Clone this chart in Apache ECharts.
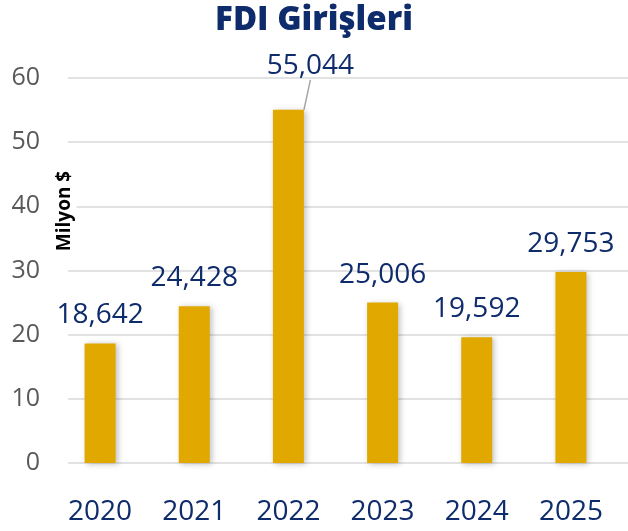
<!DOCTYPE html>
<html><head><meta charset="utf-8">
<script src="https://cdn.jsdelivr.net/npm/echarts@6/dist/echarts.min.js"></script>
<style>html,body{margin:0;padding:0;background:#fff}#c{width:628px;height:531px}</style>
</head><body><div id="c"></div>
<script>
const categories = ['2020','2021','2022','2023','2024','2025'];
const values = [18642, 24428, 55044, 25006, 19592, 29753];
const yTicks = [0, 10000, 20000, 30000, 40000, 50000, 60000];
const titleText = 'FDI Girişleri';
const yName = 'Milyon $';

const navy = '#0E2B6B';
const chart = echarts.init(document.getElementById('c'));
chart.setOption({
  animation: false,
  title: { text: titleText, left: 'center', top: -1,
    textStyle: { fontFamily: 'Open Sans', fontWeight: 800, fontSize: 33, color: navy } },
  grid: [
    { left: 68, right: 0, top: 78, bottom: 68 },
    { left: 53, right: 10, top: 78, bottom: 68 }
  ],
  xAxis: [
    { gridIndex: 0, type: 'category', data: categories, show: false },
    { gridIndex: 1, type: 'category', data: categories,
      axisLine: { show: false }, axisTick: { show: false },
      axisLabel: { fontFamily: 'Open Sans', fontSize: 28, color: navy, margin: 35 } }
  ],
  yAxis: [
    { gridIndex: 0, type: 'value', min: yTicks[0], max: yTicks[yTicks.length-1], interval: 10000,
      axisLine: { show: false }, axisTick: { show: false },
      splitLine: { lineStyle: { color: '#D9D9D9', width: 1.5 } },
      axisLabel: { fontFamily: 'Open Sans', fontSize: 25, color: '#595959', margin: 28,
        formatter: v => String(v / 1000) } },
    { gridIndex: 1, type: 'value', min: yTicks[0], max: yTicks[yTicks.length-1], interval: 10000, show: false }
  ],
  graphic: [{
    type: 'text', x: 65, y: 211, rotation: Math.PI / 2, z: 100,
    style: { text: yName, fontFamily: 'Open Sans', fontWeight: 'bold', fontSize: 19, fill: '#000',
      align: 'center', verticalAlign: 'middle', backgroundColor: '#fff', padding: [2, 4] }
  }],
  series: [{
    type: 'bar', xAxisIndex: 1, yAxisIndex: 1, barWidth: 31,
    data: values.map((v, i) => i === 2
      ? { value: v, labelLine: { show: true, lineStyle: { color: '#A6A6A6', width: 1.5 } } }
      : { value: v }),
    itemStyle: { color: '#E1A900', shadowBlur: 6, shadowColor: 'rgba(0,0,0,0.25)', shadowOffsetX: 2, shadowOffsetY: 1 },
    label: { show: true, position: 'top', distance: 14, fontFamily: 'Open Sans', fontSize: 28, color: navy,
      formatter: p => p.value.toLocaleString('en-US') },
    labelLine: { show: false },
    labelLayout: p => p.dataIndex === 2 ? { dx: 22, dy: -16 } : {}
  }]
});
</script></body></html>
